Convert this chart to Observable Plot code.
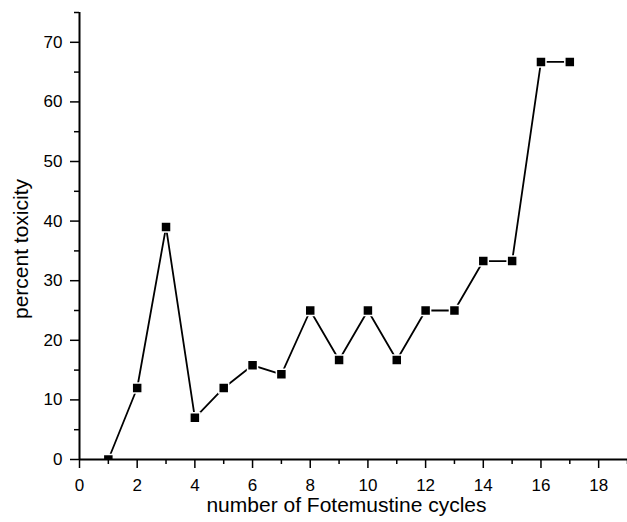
<!DOCTYPE html>
<html>
<head>
<meta charset="utf-8">
<script src="https://cdn.jsdelivr.net/npm/d3@7"></script>
<script src="https://cdn.jsdelivr.net/npm/@observablehq/plot@0.6"></script>
<style>
  html, body { margin: 0; padding: 0; background: #fff; }
</style>
</head>
<body>
<div id="chart"></div>
<script>
const cycles = [1, 2, 3, 4, 5, 6, 7, 8, 9, 10, 11, 12, 13, 14, 15, 16, 17];
const toxicity = [0, 12, 39, 7, 12, 15.8, 14.3, 25, 16.7, 25, 16.7, 25, 25, 33.3, 33.3, 66.7, 66.7];
const xMajorTicks = [0, 2, 4, 6, 8, 10, 12, 14, 16, 18];
const xMinorTicks = [1, 3, 5, 7, 9, 11, 13, 15, 17, 19];
const yMajorTicks = [0, 10, 20, 30, 40, 50, 60, 70];
const yMinorTicks = [5, 15, 25, 35, 45, 55, 65, 75];
const xTitle = "number of Fotemustine cycles";
const yTitle = "percent toxicity";

const data = cycles.map((c, i) => ({cycle: c, pct: toxicity[i]}));

const font = "'Liberation Sans', Arial, Helvetica, sans-serif";

const chart = Plot.plot({
  width: 627,
  height: 522,
  marginLeft: 79,
  marginRight: 0,
  marginTop: 12,
  marginBottom: 63,
  style: {fontFamily: font, fontSize: "17px", color: "black", background: "white"},
  x: {domain: [0, 19]},
  y: {domain: [0, 75]},
  marks: [
    Plot.line(data, {x: "cycle", y: "pct", stroke: "black", strokeWidth: 1.8}),
    Plot.dot(data, {x: "cycle", y: "pct", symbol: "square", r: 5.64, fill: "black", stroke: "white", strokeWidth: 1.5, clip: true}),
    Plot.axisX({ticks: xMajorTicks, tickSize: 9, tickPadding: 10, strokeWidth: 1.5, label: null, fontSize: 17}),
    Plot.axisX({ticks: xMinorTicks, tickSize: 5, strokeWidth: 1.5, label: null, tickFormat: () => ""}),
    Plot.axisY({ticks: yMajorTicks, tickSize: 9, tickPadding: 8, strokeWidth: 1.5, label: null, fontSize: 17}),
    Plot.axisY({ticks: yMinorTicks, tickSize: 5, strokeWidth: 1.5, label: null, tickFormat: () => ""}),
    Plot.ruleY([0], {stroke: "black", strokeWidth: 2}),
    Plot.ruleX([0], {stroke: "black", strokeWidth: 2}),
    Plot.text([xTitle], {frameAnchor: "bottom", dx: -7, dy: 46, fontSize: 21, textAnchor: "middle", lineAnchor: "middle", fill: "black"}),
    Plot.text([yTitle], {frameAnchor: "left", rotate: -90, dx: -58, dy: 13, fontSize: 21, textAnchor: "middle", lineAnchor: "middle", fill: "black"})
  ]
});
document.getElementById("chart").appendChild(chart);
</script>
</body>
</html>
